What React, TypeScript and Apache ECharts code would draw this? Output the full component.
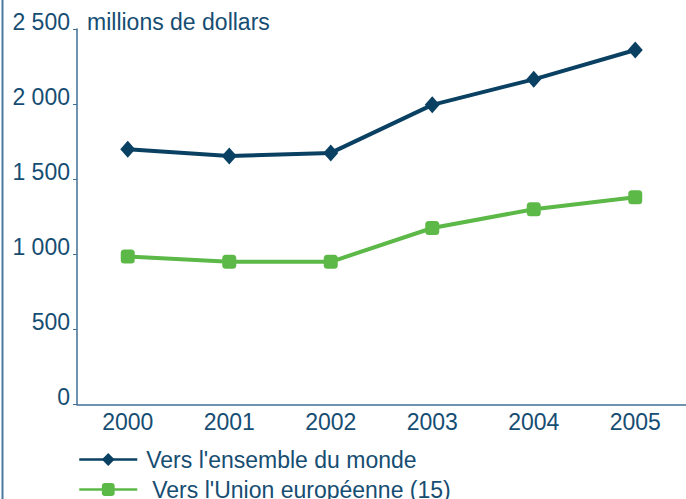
import React, { useEffect, useRef } from "react";
import * as echarts from "echarts";

const years = ["2000", "2001", "2002", "2003", "2004", "2005"];
const worldValues = [1700, 1655, 1675, 1995, 2165, 2360];
const euValues = [985, 950, 950, 1175, 1300, 1380];
const seriesNames = ["Vers l'ensemble du monde", "Vers l'Union européenne (15)"];
const unitLabel = "millions de dollars";

const FONT = "'Liberation Sans', Arial, sans-serif";
const TEXT = "#164d72";
const AXIS = "#3f6f95";
const NAVY = "#0a4163";
const GREEN = "#5cb847";
const FS = 23;

function fmt(v: number) {
  const s = String(v);
  return s.length > 3 ? s.slice(0, s.length - 3) + " " + s.slice(s.length - 3) : s;
}

export default function App() {
  const ref = useRef<HTMLDivElement>(null);
  useEffect(() => {
    if (!ref.current) return;
    const chart = echarts.init(ref.current, null, { renderer: "svg" });
    const legendBase = {
      orient: "horizontal",
      left: 78,
      padding: 0,
      itemWidth: 58,
      itemHeight: 16,
      lineStyle: { width: 2.5 },
      textStyle: { fontFamily: FONT, fontSize: FS, color: TEXT },
    };
    chart.setOption({
      animation: false,
      backgroundColor: "#ffffff",
      textStyle: { fontFamily: FONT },
      title: {
        text: unitLabel,
        left: 87,
        top: 10,
        padding: 0,
        textStyle: { fontFamily: FONT, fontSize: FS, fontWeight: "normal", color: TEXT },
      },
      graphic: [
        {
          type: "line",
          shape: { x1: 2.5, y1: 0, x2: 2.5, y2: 499 },
          style: { stroke: "#4a7aa1", lineWidth: 2 },
        },
      ],
      grid: { left: 77, right: -8, top: 29, bottom: 94.5, containLabel: false },
      legend: [
        {
          ...legendBase,
          top: 448,
          data: [{ name: seriesNames[0], textStyle: { padding: [0, 0, 4, 4] } }],
        },
        {
          ...legendBase,
          top: 478,
          data: [{ name: seriesNames[1], textStyle: { padding: [0, 0, 4, 10] } }],
        },
      ],
      xAxis: {
        type: "category",
        data: years,
        boundaryGap: true,
        axisLine: { lineStyle: { color: AXIS, width: 1.5 } },
        axisTick: { length: 4, lineStyle: { color: AXIS } },
        axisLabel: { fontFamily: FONT, fontSize: FS, color: TEXT, margin: 6 },
      },
      yAxis: {
        type: "value",
        min: 0,
        max: 2500,
        interval: 500,
        splitLine: { show: false },
        axisLine: { show: true, lineStyle: { color: AXIS, width: 1.5 } },
        axisTick: { show: true, length: 4, lineStyle: { color: AXIS } },
        axisLabel: {
          fontFamily: FONT,
          fontSize: FS,
          color: TEXT,
          margin: 7,
          verticalAlign: "bottom",
          lineHeight: 15,
          formatter: (v: number) => fmt(v),
        },
      },
      series: [
        {
          name: seriesNames[0],
          type: "line",
          data: worldValues,
          symbol: "diamond",
          symbolSize: [15, 17],
          lineStyle: { color: NAVY, width: 4 },
          itemStyle: { color: NAVY },
        },
        {
          name: seriesNames[1],
          type: "line",
          data: euValues,
          symbol: "roundRect",
          symbolSize: 14,
          lineStyle: { color: GREEN, width: 4 },
          itemStyle: { color: GREEN },
        },
      ],
    });
    return () => chart.dispose();
  }, []);
  return (
    <div
      ref={ref}
      style={{ position: "fixed", left: 0, top: 0, width: 686, height: 499 }}
    />
  );
}
